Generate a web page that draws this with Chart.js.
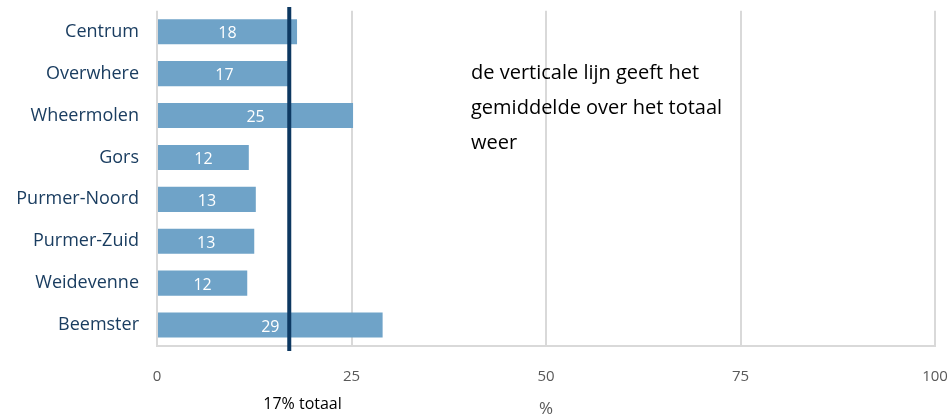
<!DOCTYPE html>
<html>
<head>
<meta charset="utf-8">
<script src="https://cdn.jsdelivr.net/npm/chart.js@4"></script>
<style>
  html, body { margin: 0; padding: 0; background: #fff; overflow: hidden; }
  #wrap { width: 950px; height: 419px; position: relative; }
</style>
</head>
<body>
<div id="wrap"><canvas id="myChart"></canvas></div>
<script>
// data
const wijken = ['Centrum', 'Overwhere', 'Wheermolen', 'Gors', 'Purmer-Noord', 'Purmer-Zuid', 'Weidevenne', 'Beemster'];
const percentages = [18.0, 17.2, 25.2, 11.8, 12.7, 12.5, 11.6, 29.0];
const xTicks = [0, 25, 50, 75, 100];
const gemiddelde = 17;
const notitie = ['de verticale lijn geeft het', 'gemiddelde over het totaal', 'weer'];

const FONT = "'Open Sans', 'Noto Sans', sans-serif";

// white value labels in the bars, the average line and the note
const extras = {
  id: 'extras',
  afterDatasetsDraw(chart) {
    const ctx = chart.ctx;
    const x = chart.scales.x;
    const area = chart.chartArea;
    const meta = chart.getDatasetMeta(0);

    ctx.save();
    ctx.fillStyle = '#ffffff';
    ctx.font = '16px ' + FONT;
    ctx.textAlign = 'center';
    ctx.textBaseline = 'middle';
    meta.data.forEach((bar, i) => {
      const cx = (bar.base + bar.x) / 2;
      ctx.fillText(Math.round(percentages[i]), cx, bar.y + 2);
    });

    // average line
    const lx = x.getPixelForValue(gemiddelde);
    ctx.strokeStyle = '#0d3861';
    ctx.lineWidth = 4;
    ctx.beginPath();
    ctx.moveTo(lx, 7);
    ctx.lineTo(lx, area.bottom + 5);
    ctx.stroke();

    ctx.fillStyle = '#000000';
    ctx.font = '16px ' + FONT;
    ctx.textAlign = 'left';
    ctx.fillText(gemiddelde + '% totaal', lx - 26, 404);

    // note
    ctx.font = '20px ' + FONT;
    notitie.forEach((t, i) => ctx.fillText(t, 471, 73 + i * 35));
    ctx.restore();
  }
};

new Chart(document.getElementById('myChart'), {
  type: 'bar',
  data: {
    labels: wijken,
    datasets: [{
      data: percentages,
      backgroundColor: '#6fa3c8',
      barPercentage: 0.6,
      categoryPercentage: 1.0
    }]
  },
  options: {
    indexAxis: 'y',
    responsive: true,
    maintainAspectRatio: false,
    animation: false,
    layout: { padding: { top: 9, right: 15, left: 0, bottom: 0 } },
    plugins: { legend: { display: false }, tooltip: { enabled: false } },
    scales: {
      x: {
        min: 0,
        max: 100,
        afterBuildTicks: axis => { axis.ticks = xTicks.map(v => ({ value: v })); },
        afterFit: axis => { axis.height = 73; },
        grid: { color: '#d9d9d9', lineWidth: 2, tickLength: 22, tickColor: 'transparent' },
        border: { color: '#d9d9d9', width: 2 },
        ticks: { color: '#595959', font: { family: FONT, size: 15 }, padding: 0 },
        title: { display: true, text: '%', color: '#595959', font: { family: FONT, size: 17 }, padding: { top: 8, bottom: 0 } }
      },
      y: {
        afterFit: axis => { axis.width = 157; },
        grid: { drawOnChartArea: false, color: 'transparent', tickLength: 18 },
        border: { display: false },
        ticks: { color: '#1a3d60', font: { family: FONT, size: 18 }, padding: 0 }
      }
    }
  },
  plugins: [extras]
});
</script>
</body>
</html>
